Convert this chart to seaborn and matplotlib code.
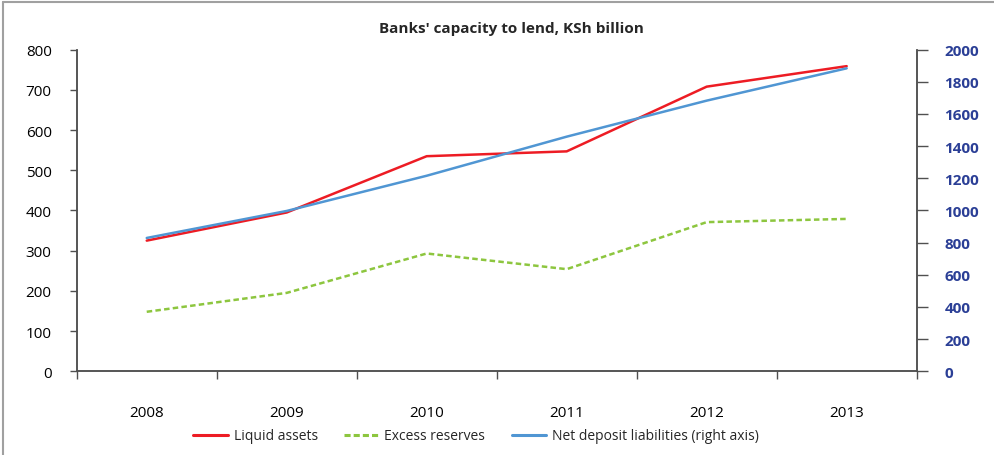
import matplotlib
matplotlib.use("Agg")
import matplotlib.pyplot as plt
from matplotlib.lines import Line2D
import seaborn as sns
import pandas as pd

years = ["2008", "2009", "2010", "2011", "2012", "2013"]
liquid_assets = [325, 395, 535, 547, 708, 759]
excess_reserves = [148, 195, 293, 254, 371, 379]
net_deposit_liabilities = [829, 997, 1216, 1459, 1683, 1884]

left_ticks = [0, 100, 200, 300, 400, 500, 600, 700, 800]
right_ticks = [0, 200, 400, 600, 800, 1000, 1200, 1400, 1600, 1800, 2000]

sns.set_theme(style="white")
plt.rcParams["font.family"] = ["Open Sans", "DejaVu Sans"]

RED = "#ED1C24"
GREEN = "#8DC63F"
BLUE = "#5096D3"
NAVY = "#2B3F96"
AXIS = "#505050"

df = pd.DataFrame({
    "pos": range(len(years)),
    "liquid": liquid_assets,
    "excess": excess_reserves,
    "ndl": net_deposit_liabilities,
})

fig = plt.figure(figsize=(9.94, 4.56), dpi=100)
ax = fig.add_axes([0.0772, 0.1836, 0.8450, 0.7053])
ax2 = ax.twinx()

sns.lineplot(data=df, x="pos", y="liquid", ax=ax, color=RED, linewidth=1.8,
             label="Liquid assets", legend=False)
sns.lineplot(data=df, x="pos", y="excess", ax=ax, color=GREEN, linewidth=1.8,
             dashes=False, label="Excess reserves", legend=False)
ax.lines[-1].set_dashes((2.2, 1.3))
sns.lineplot(data=df, x="pos", y="ndl", ax=ax2, color=BLUE, linewidth=1.8,
             label="Net deposit liabilities (right axis)", legend=False)

# category axis: boundaries get tick marks, centres carry labels
ax.set_xlim(-0.5, len(years) - 0.5)
ax.set_xticks([i - 0.5 for i in range(len(years) + 1)])
ax.set_xticklabels([])
ax.set_xticks(range(len(years)), minor=True)
ax.set_xticklabels(years, minor=True)
ax.tick_params(axis="x", which="major", direction="out", length=6, width=1,
               color=AXIS, bottom=True)
ax.tick_params(axis="x", which="minor", length=0, pad=24, labelsize=11,
               labelcolor="black")

ax.set_ylim(0, 800)
ax.set_yticks(left_ticks)
ax.tick_params(axis="y", direction="out", length=5, width=1, color=AXIS,
               left=True, pad=13, labelsize=11, labelcolor="black")

ax2.set_ylim(0, 2000)
ax2.set_yticks(right_ticks)
ax2.tick_params(axis="y", direction="out", length=8, width=1, color=AXIS,
                right=True, pad=12, labelsize=11, labelcolor=NAVY)
for t in ax2.get_yticklabels():
    t.set_fontweight("bold")

for a in (ax, ax2):
    a.set_xlabel("")
    a.set_ylabel("")
    a.grid(False)
    a.spines["top"].set_visible(False)
    for side in ("left", "right", "bottom"):
        a.spines[side].set_color(AXIS)
        a.spines[side].set_linewidth(1.1)

fig.text(0.515, 1 - 29 / 456, "Banks' capacity to lend, KSh billion",
         ha="center", va="center", fontsize=11, fontweight="bold")

handles = [
    Line2D([], [], color=RED, linewidth=2.2),
    Line2D([], [], color=GREEN, linewidth=2.2, dashes=(2.0, 1.0)),
    Line2D([], [], color=BLUE, linewidth=2.2),
]
labels = ["Liquid assets", "Excess reserves", "Net deposit liabilities (right axis)"]
fig.legend(handles, labels, loc="center", bbox_to_anchor=(476 / 994, 1 - 437 / 456),
           ncol=3, frameon=False, fontsize=10, handlelength=2.5,
           handletextpad=0.4, columnspacing=1.9)

# light frame around the figure
fig.add_artist(Line2D([3 / 994, 3 / 994], [0, 1 - 3 / 456], transform=fig.transFigure,
                      color="#A0A0A0", linewidth=1.5))
fig.add_artist(Line2D([3 / 994, 1], [1 - 3 / 456, 1 - 3 / 456], transform=fig.transFigure,
                      color="#A0A0A0", linewidth=1.5))

fig.savefig("out.png", dpi=100)
